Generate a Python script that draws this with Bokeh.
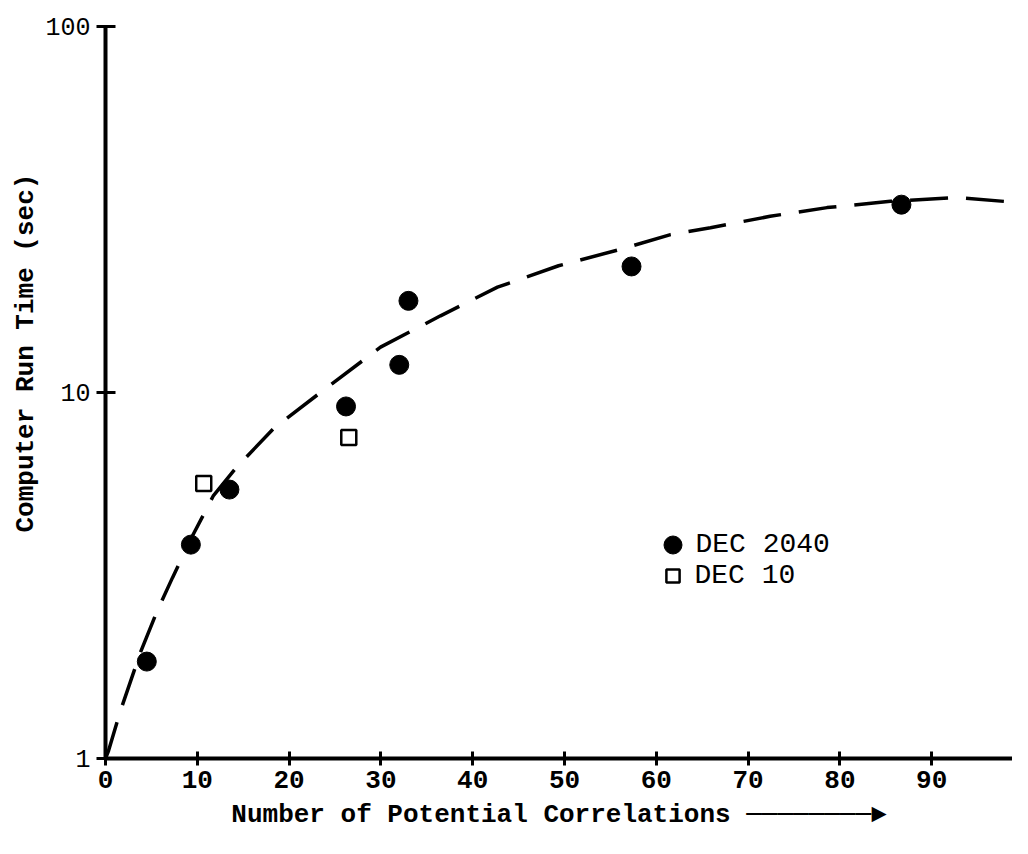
from bokeh.plotting import figure
from bokeh.models import (FixedTicker, PrintfTickFormatter, Legend, LegendItem,
                          Range1d, Title)
from bokeh.embed import file_html
from bokeh.resources import INLINE

# ---- data ----
dec2040_x = [4.5, 9.3, 13.5, 26.2, 32.0, 33.0, 57.3, 86.7]
dec2040_y = [1.84, 3.84, 5.43, 9.16, 11.9, 17.8, 22.1, 32.6]

dec10_x = [10.7, 26.5]
dec10_y = [5.64, 7.53]

curve_x = [0.0, 0.33, 1.63, 3.81, 5.66, 7.30, 9.48, 11.76, 14.16, 18.30, 23.64,
           29.96, 36.49, 42.70, 49.35, 56.32, 61.55, 65.9, 72.4, 78.6, 85.5, 92.6, 99.7]
curve_y = [1.0, 1.05, 1.35, 1.95, 2.54, 3.12, 4.06, 5.23, 6.20, 7.97, 10.1,
           13.3, 16.2, 19.4, 22.2, 24.7, 27.0, 28.2, 30.3, 32.0, 33.3, 34.1, 33.0]

x_ticks = [0, 10, 20, 30, 40, 50, 60, 70, 80, 90]
y_ticks = [1, 10, 100]

x_label = "Number of Potential Correlations \u2500\u2500\u2500\u2500\u2500\u2500\u2500\u2500\u25BA"
y_label = "Computer Run Time (sec)"
legend_labels = ["DEC 2040", "DEC 10"]

MONO = "Liberation Mono"

p = figure(width=1012, height=838, y_axis_type="log",
           x_range=Range1d(0, 98.8), y_range=Range1d(1, 100),
           output_backend="svg", toolbar_location=None,
           min_border_left=105, min_border_right=0, min_border_top=26, min_border_bottom=80)

p.outline_line_color = None
p.grid.visible = False
p.background_fill_color = "white"
p.border_fill_color = "white"

# axes
for ax in (p.xaxis[0], p.yaxis[0]):
    ax.axis_line_width = 4
    ax.axis_line_color = "black"
    ax.major_tick_line_width = 3
    ax.major_tick_line_color = "black"
    ax.minor_tick_line_color = None
    ax.major_label_text_color = "black"
    ax.major_label_text_font = MONO

xa = p.xaxis[0]
xa.ticker = FixedTicker(ticks=x_ticks)
xa.major_tick_in = 7
xa.major_tick_out = 7
xa.major_label_standoff = 5
xa.major_label_text_font_size = "26px"
xa.major_label_text_font_style = "bold"
xa.axis_label = x_label
xa.axis_label_text_font = MONO
xa.axis_label_text_font_size = "26px"
xa.axis_label_text_font_style = "bold"
xa.axis_label_text_color = "black"
xa.axis_label_standoff = 9

ya = p.yaxis[0]
ya.ticker = FixedTicker(ticks=y_ticks, minor_ticks=[])
ya.formatter = PrintfTickFormatter(format="%d")
ya.major_tick_in = 10
ya.major_tick_out = 9
ya.major_label_standoff = 6
ya.major_label_text_font_size = "25px"

# y axis title, placed like the reference (a bit above the middle)
p.add_layout(Title(text=y_label, align="left", offset=226, standoff=4,
                   text_font=MONO, text_font_size="26px", text_font_style="bold",
                   text_color="black"), "left")

# fitted dashed curve
p.line(curve_x, curve_y, line_color="black", line_width=3.5, line_dash="38 18")

# data
r1 = p.scatter(dec2040_x, dec2040_y, marker="circle", size=19,
               fill_color="black", line_color="black")
r2 = p.scatter(dec10_x, dec10_y, marker="square", size=15,
               fill_color="white", line_color="black", line_width=2.5)

common = dict(padding=0, margin=0, spacing=0, border_line_color=None,
              background_fill_alpha=0, label_text_font=MONO,
              label_text_font_size="28px", label_text_color="black")

leg1 = Legend(items=[LegendItem(label=legend_labels[0], renderers=[r1])],
              location=(544.5, 191.5), glyph_width=45, glyph_height=45,
              label_standoff=1, label_height=20, **common)
leg2 = Legend(items=[LegendItem(label=legend_labels[1], renderers=[r2])],
              location=(550.5, 166.5), glyph_width=33, glyph_height=33,
              label_standoff=6, label_height=20, **common)
p.add_layout(leg1)
p.add_layout(leg2)

open("out.html", "w").write(file_html(p, INLINE))
